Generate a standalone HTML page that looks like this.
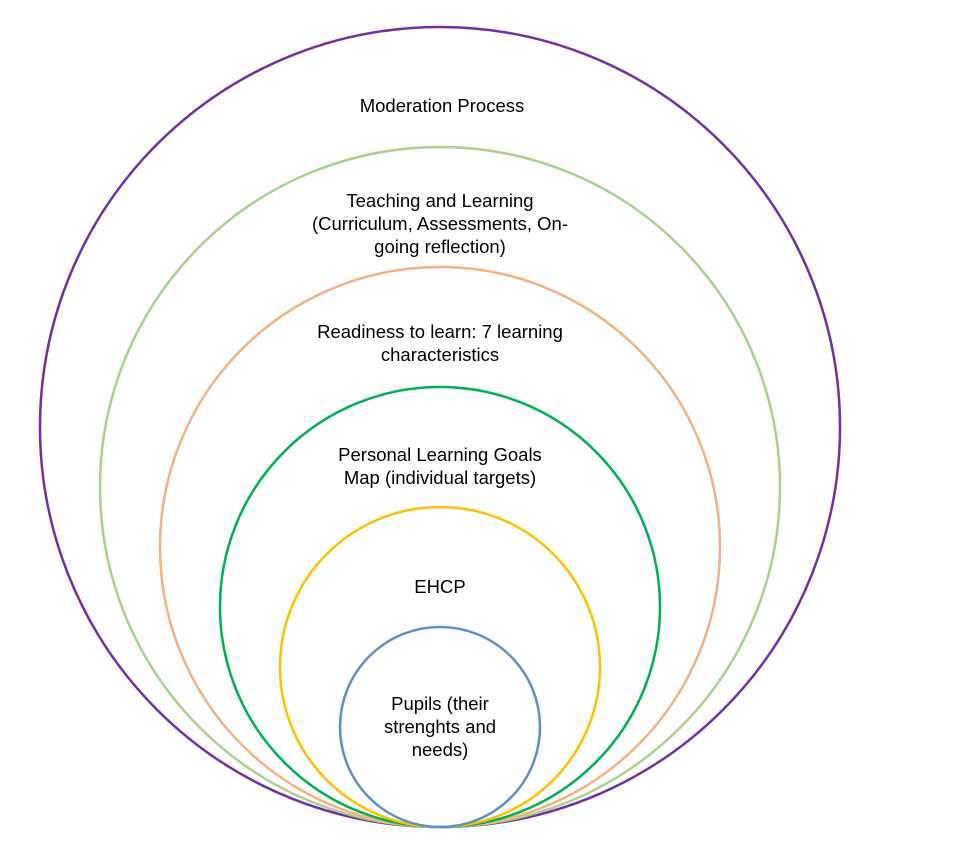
<!DOCTYPE html>
<html><head><meta charset="utf-8"><style>
html,body{margin:0;padding:0;background:#fff;width:965px;height:845px;overflow:hidden}
svg text{font-family:"Liberation Sans",sans-serif;font-size:18.5px;fill:#000;text-anchor:middle}
</style></head><body>
<svg width="965" height="845" viewBox="0 0 965 845" xmlns="http://www.w3.org/2000/svg">
<g fill="none" stroke-width="2.5">
<circle cx="440" cy="427" r="400" stroke="#7030a0"/>
<circle cx="440" cy="487" r="340" stroke="#a9d18e"/>
<circle cx="440" cy="547" r="280" stroke="#f4b183"/>
<circle cx="440" cy="607" r="220" stroke="#00b050"/>
<circle cx="440" cy="667" r="160" stroke="#ffc000"/>
<circle cx="440" cy="727" r="100" stroke="#5b8fc7"/>
</g>
<text x="442" y="112">Moderation Process</text>
<text x="440" y="207">Teaching and Learning</text>
<text x="440" y="230">(Curriculum, Assessments, On-</text>
<text x="440" y="253">going reflection)</text>
<text x="440" y="338">Readiness to learn: 7 learning</text>
<text x="440" y="361">characteristics</text>
<text x="440" y="461">Personal Learning Goals</text>
<text x="440" y="484">Map (individual targets)</text>
<text x="440" y="593">EHCP</text>
<text x="440" y="710">Pupils (their</text>
<text x="440" y="733">strenghts and</text>
<text x="440" y="756">needs)</text>
</svg>
</body></html>
